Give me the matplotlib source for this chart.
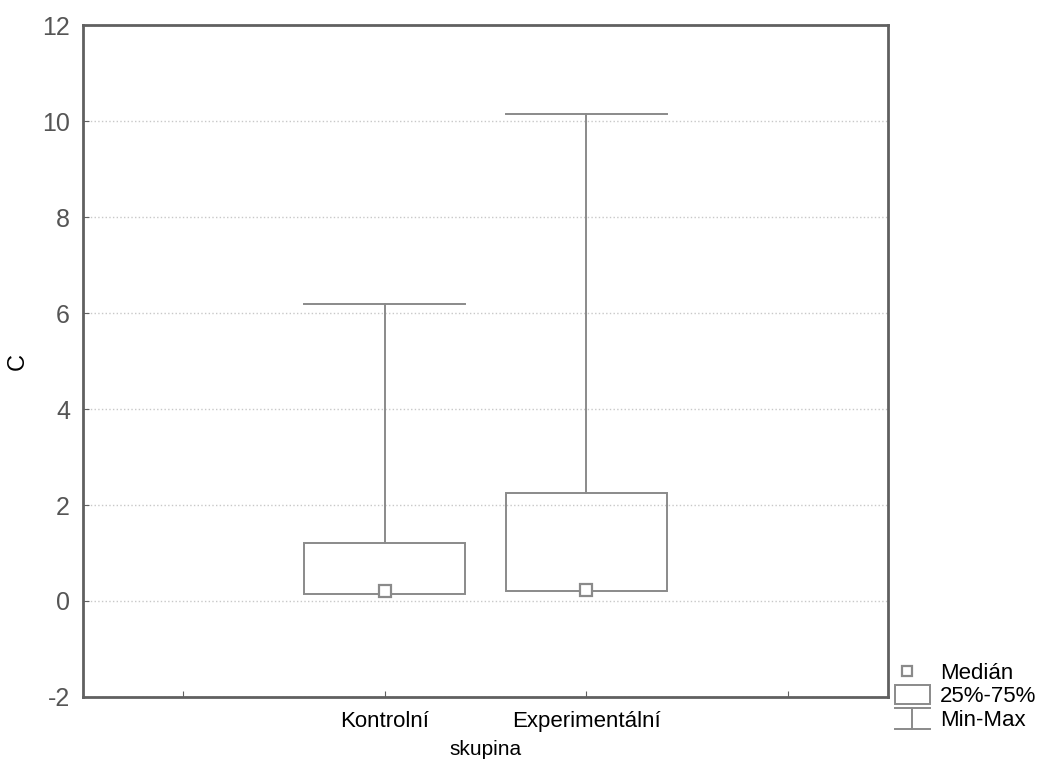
import matplotlib
matplotlib.use("Agg")
import matplotlib.pyplot as plt
from matplotlib.patches import Rectangle
from matplotlib.lines import Line2D
from matplotlib.legend_handler import HandlerBase

plt.rcParams['font.family'] = ['Liberation Sans', 'DejaVu Sans']
plt.rcParams['axes.unicode_minus'] = False

# Summary statistics per group
groups = ["Kontrolní", "Experimentální"]
group_pos = [1, 2]
medians = [0.2, 0.22]
q25 = [0.15, 0.2]
q75 = [1.2, 2.25]
mins = [0.15, 0.2]
maxs = [6.2, 10.15]

yticks = [-2, 0, 2, 4, 6, 8, 10, 12]
xtick_pos = [0, 1, 2, 3]
xtick_labels = ["", "Kontrolní", "Experimentální", ""]

line_col = "#8a8a8a"
axis_col = "#606060"

fig = plt.figure(figsize=(10.45, 7.65), dpi=100)
ax = fig.add_axes([0.079, 0.089, 0.771, 0.878])

box_w = 0.8
for x, med, lo, hi, mn, mx in zip(group_pos, medians, q25, q75, mins, maxs):
    ax.add_patch(Rectangle((x - box_w / 2, lo), box_w, hi - lo,
                           fill=False, edgecolor=line_col, lw=1.4, zorder=3))
    ax.plot([x, x], [hi, mx], color=line_col, lw=1.4, zorder=3)
    ax.plot([x - box_w / 2, x + box_w / 2], [mx, mx], color=line_col, lw=1.4, zorder=3)
    if mn < lo:
        ax.plot([x, x], [mn, lo], color=line_col, lw=1.4, zorder=3)
        ax.plot([x - box_w / 2, x + box_w / 2], [mn, mn], color=line_col, lw=1.4, zorder=3)
    ax.plot([x], [med], marker="s", ms=8, mfc="white", mec=line_col, mew=1.6, zorder=4)

ax.set_xlim(-0.5, 3.5)
ax.set_ylim(-2, 12)
ax.set_yticks(yticks)
ax.set_xticks(xtick_pos)
ax.set_xticklabels(xtick_labels, fontsize=16, color="black")
ax.tick_params(axis="y", labelsize=18, labelcolor="#555555", color=axis_col,
               length=4, direction="in", pad=9)
ax.tick_params(axis="x", color=axis_col, length=4, direction="in", pad=10)
ax.grid(axis="y", linestyle=":", color="#c8c8c8", lw=1.0)
for s in ax.spines.values():
    s.set_color(axis_col)
    s.set_linewidth(2.0)

ax.set_xlabel("skupina", fontsize=15, va="center")
ax.xaxis.set_label_coords(0.5, -0.079)
ax.set_ylabel("C", fontsize=17, va="center")
ax.yaxis.set_label_coords(-0.08, 0.5)


class WhiskerHandler(HandlerBase):
    """Legend glyph for the min-max range: caps joined by a vertical line."""
    def create_artists(self, legend, orig_handle, xdescent, ydescent,
                       width, height, fontsize, trans):
        x0, x1 = -xdescent, -xdescent + width
        xm = (x0 + x1) / 2
        y0, y1 = -ydescent - 0.2 * height, -ydescent + 1.15 * height
        kw = dict(color=line_col, lw=1.4, transform=trans)
        return [Line2D([x0, x1], [y1, y1], **kw),
                Line2D([xm, xm], [y0, y1], **kw),
                Line2D([x0, x1], [y0, y0], **kw)]


class BoxHandler(HandlerBase):
    def create_artists(self, legend, orig_handle, xdescent, ydescent,
                       width, height, fontsize, trans):
        r = Rectangle((-xdescent, -ydescent - 0.1 * height), width, 1.2 * height,
                      fill=False, edgecolor=line_col, lw=1.4, transform=trans)
        return [r]


class MedianHandler(HandlerBase):
    def create_artists(self, legend, orig_handle, xdescent, ydescent,
                       width, height, fontsize, trans):
        m = Line2D([-xdescent + 0.35 * width], [-ydescent + 0.5 * height],
                   marker="s", ls="none", ms=7, mfc="white", mec=line_col,
                   mew=1.6, transform=trans)
        return [m]


med_handle = Line2D([], [])
box_handle = Rectangle((0, 0), 1, 1)
rng_handle = Line2D([], [])

fig.legend([med_handle, box_handle, rng_handle], ["Medián", "25%-75%", "Min-Max"],
           handler_map={med_handle: MedianHandler(), box_handle: BoxHandler(),
                        rng_handle: WhiskerHandler()},
           loc="lower left", bbox_to_anchor=(0.856, 0.045),
           borderaxespad=0, borderpad=0,
           frameon=False, fontsize=16, handlelength=1.6,
           handletextpad=0.45, labelspacing=0.1)

fig.savefig("out.png", dpi=100)
